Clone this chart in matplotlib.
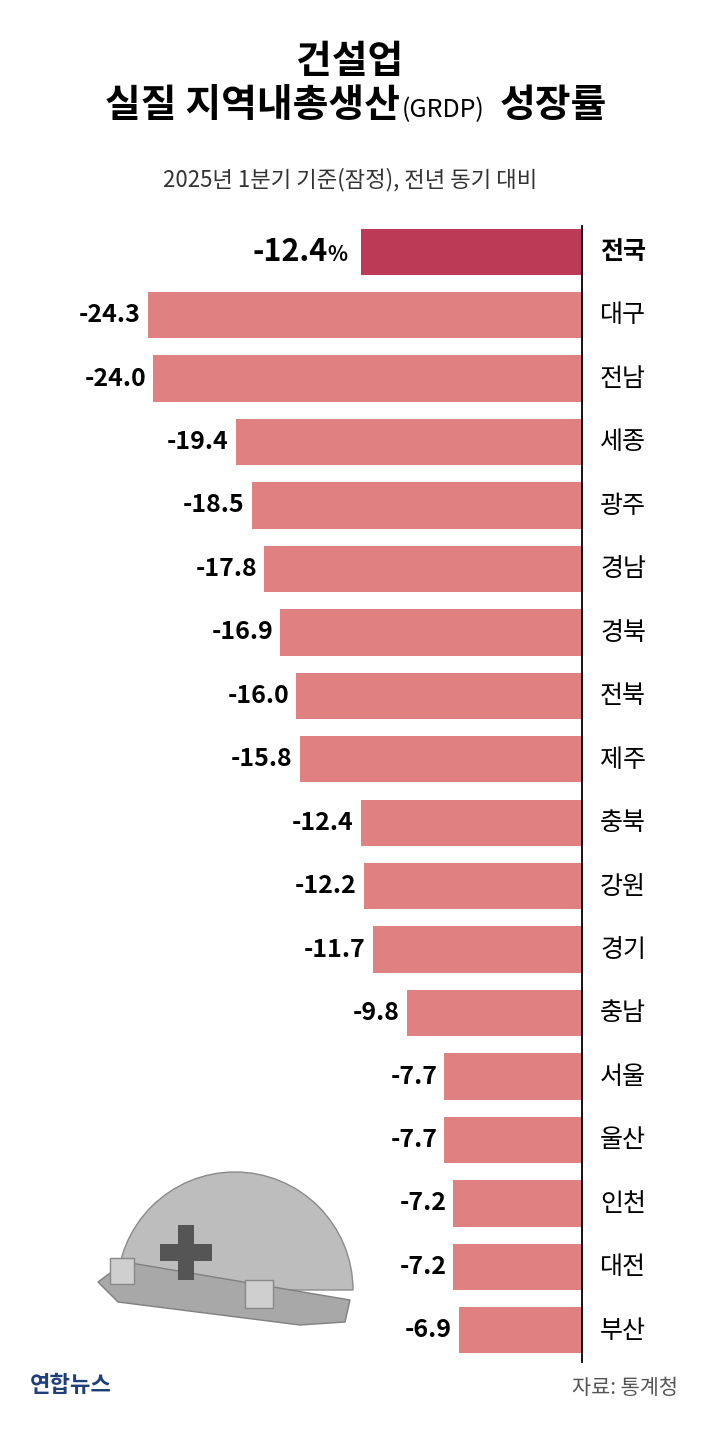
import matplotlib
matplotlib.use("Agg")
import matplotlib.pyplot as plt
from matplotlib.patches import Wedge, Polygon, Rectangle

plt.rcParams['font.family'] = ['Noto Sans CJK KR', 'DejaVu Sans']

regions = ["전국","대구","전남","세종","광주","경남","경북","전북","제주","충북","강원","경기","충남","서울","울산","인천","대전","부산"]
values = [-12.4,-24.3,-24.0,-19.4,-18.5,-17.8,-16.9,-16.0,-15.8,-12.4,-12.2,-11.7,-9.8,-7.7,-7.7,-7.2,-7.2,-6.9]

W, H = 701, 1444
fig = plt.figure(figsize=(W/100, H/100), dpi=100)
fig.patch.set_facecolor("white")

def fx(px): return px / W
def fy(py): return 1 - py / H

# helmet decoration
hax = fig.add_axes([0, 0, 1, 1])
hax.set_xlim(0, W); hax.set_ylim(H, 0); hax.axis("off")
hax.add_patch(Wedge((235, 1290), 118, 180, 360, facecolor="#bdbdbd", edgecolor="#8a8a8a", lw=1))
hax.add_patch(Polygon([[98, 1282], [125, 1262], [350, 1300], [345, 1322], [300, 1325], [118, 1302]],
                      closed=True, facecolor="#a8a8a8", edgecolor="#808080", lw=1))
hax.add_patch(Rectangle((178, 1225), 16, 55, facecolor="#555555"))
hax.add_patch(Rectangle((160, 1244), 52, 17, facecolor="#555555"))
hax.add_patch(Rectangle((245, 1280), 28, 28, facecolor="#cfcfcf", edgecolor="#888888"))
hax.add_patch(Rectangle((110, 1258), 24, 26, facecolor="#cfcfcf", edgecolor="#888888"))

ax = fig.add_axes([0, 1 - 1362/H, 582/W, 1142/H])
ax.patch.set_alpha(0)
n = len(regions)
colors = ["#BC3A56"] + ["#E08080"] * (n - 1)
ax.barh(range(n), values, height=0.73, color=colors, zorder=2)
ax.set_xlim(-32.59, 0)
ax.set_ylim(n - 0.5, -0.5)
ax.axis("off")

for i, v in enumerate(values):
    if i == 0:
        ax.text(v - 1.85, i, "-12.4", ha="right", va="center", fontsize=22, fontweight="bold")
        ax.text(v - 0.75, i + 0.05, "%", ha="right", va="center", fontsize=15, fontweight="bold")
    else:
        ax.text(v - 0.4, i, f"{v:.1f}", ha="right", va="center", fontsize=18, fontweight="semibold")

for i, r in enumerate(regions):
    fig.text(fx(600), fy(252 + 63.45 * i), r, ha="left", va="center", fontsize=18,
             fontweight="bold" if i == 0 else "normal")

fig.add_artist(plt.Line2D([fx(582), fx(582)], [fy(226), fy(1362)], color="black", lw=1.3))

# titles
fig.text(fx(350), fy(62), "건설업", ha="center", va="center", fontsize=28, fontweight="bold")
fig.text(fx(400), fy(106), "실질 지역내총생산", ha="right", va="center", fontsize=28, fontweight="bold")
fig.text(fx(402), fy(110), "(GRDP)", ha="left", va="center", fontsize=18)
fig.text(fx(500), fy(106), "성장률", ha="left", va="center", fontsize=28, fontweight="bold")
fig.text(0.5, fy(180), "2025년 1분기 기준(잠정), 전년 동기 대비", ha="center", va="center",
         fontsize=16, color="#333333")

# footer
fig.text(fx(30), fy(1385), "연합뉴스", ha="left", va="center", fontsize=16, fontweight="bold",
         color="#1f3f7a")
fig.text(fx(678), fy(1388), "자료: 통계청", ha="right", va="center", fontsize=15, color="#555555")

fig.savefig("out.png", dpi=100)
